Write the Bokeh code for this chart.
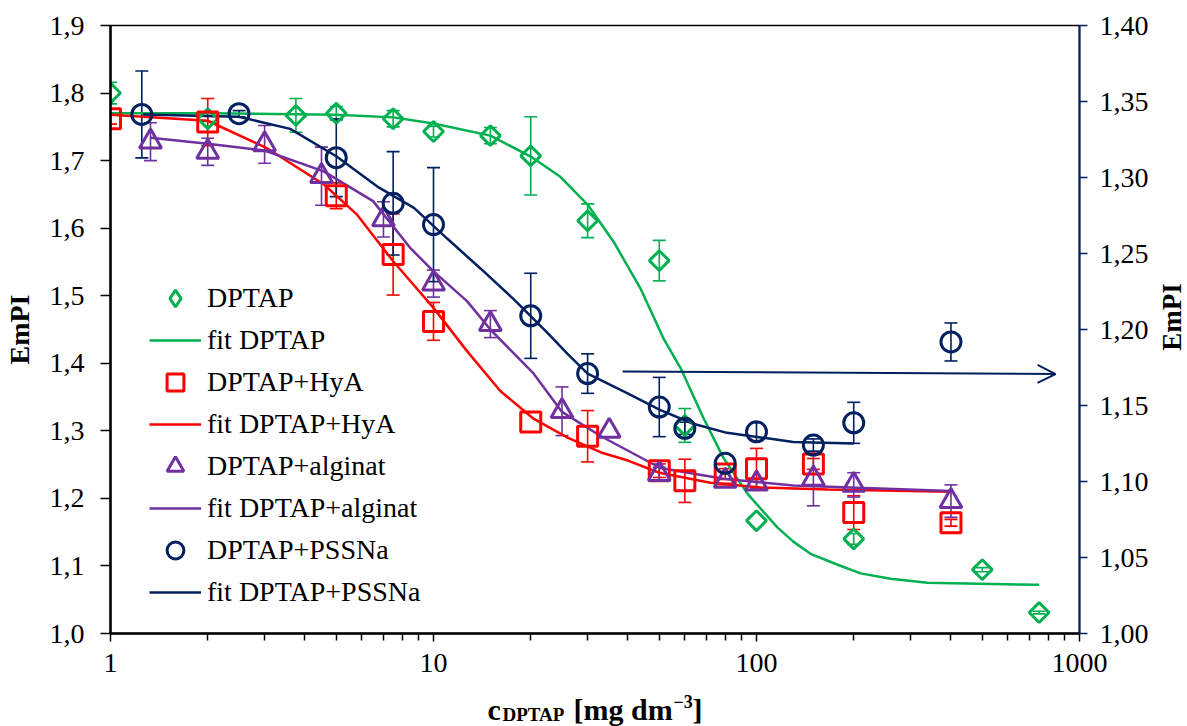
import math
import numpy as np
from bokeh.plotting import figure
from bokeh.layouts import column, row
from bokeh.models import (Range1d, LinearAxis, FixedTicker, CustomJSTickFormatter, Whisker,
                          TeeHead, ColumnDataSource, Legend, LegendItem, Arrow, OpenHead, Label)
from bokeh.embed import file_html
from bokeh.resources import INLINE

NAN = float("nan")

# ---------------- data ----------------
dptap_x = [1, 2, 3.75, 5, 7.5, 10, 15, 20, 30, 50, 60, 100, 200, 500, 750]
dptap_y = [1.800, 1.762, 1.767, 1.770, 1.762, 1.743, 1.737, 1.707, 1.611, 1.552, 1.308, 1.167, 1.140, 1.0945, 1.031]
dptap_e = [0.016, 0.004, 0.025, 0.010, 0.012, 0.008, 0.012, 0.058, 0.025, 0.030, 0.025, NAN, 0.008, 0.003, 0.002]

fit_dptap_x = [1, 2, 5, 7.52, 10, 15, 20, 24.7, 30, 36.1, 43.7, 51.5, 58.2, 68.5, 79, 93.7, 116, 130, 147,
               180, 210, 260, 338, 750]
fit_dptap_y = [1.770, 1.770, 1.768, 1.764, 1.755, 1.737, 1.706, 1.676, 1.635, 1.580, 1.511, 1.437, 1.393, 1.319,
               1.260, 1.207, 1.157, 1.136, 1.118, 1.101, 1.089, 1.081, 1.075, 1.072]

hya_x = [1, 2, 5, 7.5, 10, 20, 30, 50, 60, 80, 100, 150, 200, 400]
hya_y = [1.762, 1.757, 1.648, 1.561, 1.462, 1.313, 1.292, 1.241, 1.226, 1.236, 1.244, 1.251, 1.179, 1.164]
hya_e = [0.008, 0.035, 0.019, 0.060, 0.028, NAN, 0.038, 0.010, 0.032, 0.008, 0.030, 0.008, 0.025, 0.005]

fit_hya_x = [1, 2, 3.06, 4.57, 5.8, 7.5, 8.5, 10, 12.7, 16.1, 20.4, 26, 33, 40, 50, 72, 103, 166, 400]
fit_hya_y = [1.768, 1.759, 1.718, 1.665, 1.620, 1.551, 1.521, 1.482, 1.418, 1.359, 1.318, 1.290, 1.268, 1.256,
             1.238, 1.223, 1.216, 1.213, 1.210]

alg_x = [1.33, 2, 3, 4.5, 7, 10, 15, 25, 35, 50, 80, 100, 150, 200, 400]
alg_y = [1.728, 1.713, 1.724, 1.677, 1.613, 1.518, 1.458, 1.329, 1.300, 1.236, 1.226, 1.222, 1.229, 1.220, 1.196]
alg_e = [0.028, 0.020, 0.028, 0.043, 0.026, 0.020, 0.020, 0.036, NAN, 0.010, NAN, 0.006, 0.040, 0.018, 0.024]

fit_alg_x = [1.33, 2, 3, 4.57, 6.5, 8.5, 10, 12.7, 15, 20.4, 25, 33, 50.4, 79, 130, 400]
fit_alg_y = [1.734, 1.725, 1.715, 1.684, 1.640, 1.570, 1.536, 1.492, 1.450, 1.385, 1.328, 1.292, 1.245, 1.229,
             1.219, 1.211]

# PSSNa is read on the right-hand axis
pss_x = [1.25, 2.5, 5, 7.5, 10, 20, 30, 50, 60, 80, 100, 150, 200, 400]
pss_y = [1.3415, 1.342, 1.313, 1.283, 1.269, 1.209, 1.171, 1.149, 1.135, 1.112, 1.1327, 1.124, 1.1386, 1.1918]
pss_e = [0.0286, 0.002, 0.0256, 0.034, 0.0375, 0.028, 0.013, 0.0195, 0.004, NAN, 0.006, 0.004, 0.0135, 0.0125]

fit_pss_x = [1.26, 2.49, 3.6, 5, 6.7, 8.7, 11, 14, 17.7, 22.5, 26, 30, 39.9, 50.4, 63.7, 81, 103, 130, 200]
fit_pss_y = [1.3415, 1.340, 1.332, 1.314, 1.294, 1.280, 1.260, 1.240, 1.220, 1.198, 1.184, 1.171, 1.158, 1.147,
             1.138, 1.132, 1.129, 1.126, 1.125]

x_ticks = [1, 10, 100, 1000]
x_minor = [2, 3, 4, 5, 6, 7, 8, 9, 20, 30, 40, 50, 60, 70, 80, 90, 200, 300, 400, 500, 600, 700, 800, 900]
left_ticks = [1.0, 1.1, 1.2, 1.3, 1.4, 1.5, 1.6, 1.7, 1.8, 1.9]
right_ticks = [1.00, 1.05, 1.10, 1.15, 1.20, 1.25, 1.30, 1.35, 1.40]

legend_labels = ["DPTAP", "fit DPTAP", "DPTAP+HyA", "fit DPTAP+HyA", "DPTAP+alginat", "fit DPTAP+alginat",
                 "DPTAP+PSSNa", "fit DPTAP+PSSNa"]
y_title = "EmPI"

# ---------------- styles ----------------
GREEN = "#00B050"
RED = "#FF0000"
PURPLE = "#7030A0"
NAVY = "#002060"
FONT = "Liberation Serif"
LFONT = "'Liberation Serif', serif"

p = figure(width=1151, height=686, x_axis_type="log", title=None,
           x_range=Range1d(1, 1000), y_range=Range1d(1.0, 1.9),
           output_backend="svg", toolbar_location=None,
           min_border_left=110, min_border_right=72, min_border_top=25, min_border_bottom=53)
p.extra_y_ranges = {"right": Range1d(1.0, 1.4)}
p.xgrid.visible = False
p.ygrid.visible = False
p.outline_line_color = "black"
p.outline_line_width = 1.5
p.background_fill_color = "white"
p.border_fill_color = "white"

# x axis
xa = p.xaxis[0]
xa.ticker = FixedTicker(ticks=x_ticks, minor_ticks=x_minor)
xa.formatter = CustomJSTickFormatter(code="return tick.toFixed(0);")
xa.axis_line_color = "black"
xa.axis_line_width = 2.5
xa.major_tick_in = 0
xa.major_tick_out = 8
xa.minor_tick_in = 0
xa.minor_tick_out = 7
xa.major_tick_line_width = 1.5
xa.minor_tick_line_width = 1.5
xa.major_label_text_font = FONT
xa.major_label_text_font_size = "28px"
xa.major_label_text_color = "black"
xa.major_label_standoff = 12

# left axis
ya = p.yaxis[0]
ya.ticker = FixedTicker(ticks=left_ticks)
ya.formatter = CustomJSTickFormatter(code="return tick.toFixed(1).replace('.', ',');")
ya.axis_line_color = "black"
ya.axis_line_width = 2.5
ya.major_tick_in = 0
ya.major_tick_out = 10
ya.minor_tick_line_color = None
ya.major_tick_line_width = 1.5
ya.major_label_text_font = FONT
ya.major_label_text_font_size = "28px"
ya.major_label_text_color = "black"
ya.major_label_standoff = 16
ya.axis_label = y_title
ya.axis_label_text_font = FONT
ya.axis_label_text_font_size = "28px"
ya.axis_label_text_font_style = "bold"
ya.axis_label_text_color = "black"
ya.axis_label_standoff = 12

# right axis
ra = LinearAxis(y_range_name="right", ticker=FixedTicker(ticks=right_ticks),
                formatter=CustomJSTickFormatter(code="return tick.toFixed(2).replace('.', ',');"))
ra.axis_line_color = NAVY
ra.axis_line_width = 2
ra.major_tick_line_color = NAVY
ra.major_tick_line_width = 1.5
ra.major_tick_in = 0
ra.major_tick_out = 8
ra.minor_tick_line_color = None
ra.major_label_text_font = FONT
ra.major_label_text_font_size = "28px"
ra.major_label_text_color = "black"
ra.major_label_standoff = 12
p.add_layout(ra, "right")


def whisk(xs, ys, es, color, rng="default"):
    y = np.array(ys, dtype=float)
    e = np.array(es, dtype=float)
    src = ColumnDataSource(dict(x=xs, lo=y - e, hi=y + e))
    w = Whisker(source=src, base="x", lower="lo", upper="hi", dimension="height",
                line_color=color, line_width=1.6, y_range_name=rng,
                upper_head=TeeHead(size=13, line_color=color, line_width=1.6),
                lower_head=TeeHead(size=13, line_color=color, line_width=1.6))
    p.add_layout(w)


whisk(dptap_x, dptap_y, dptap_e, GREEN)
whisk(hya_x, hya_y, hya_e, RED)
whisk(alg_x, alg_y, alg_e, PURPLE)
whisk(pss_x, pss_y, pss_e, NAVY, "right")

# fit curves
l1 = p.line(fit_dptap_x, fit_dptap_y, line_color=GREEN, line_width=2.5)
l2 = p.line(fit_hya_x, fit_hya_y, line_color=RED, line_width=2.5)
l3 = p.line(fit_alg_x, fit_alg_y, line_color=PURPLE, line_width=2.5)
l4 = p.line(fit_pss_x, fit_pss_y, line_color=NAVY, line_width=2.5, y_range_name="right")

# markers
s1 = p.scatter(dptap_x, dptap_y, marker="square", angle=math.pi / 4, size=14,
               fill_color=None, line_color=GREEN, line_width=3)
s2 = p.scatter(hya_x, hya_y, marker="square", size=20, fill_color=None, line_color=RED, line_width=3)
s3 = p.scatter(alg_x, alg_y, marker="triangle", size=22, fill_color=None, line_color=PURPLE, line_width=3)
s4 = p.scatter(pss_x, pss_y, marker="circle", size=20, fill_color=None, line_color=NAVY, line_width=3,
               y_range_name="right")
# legend swatch for the diamond (the legend does not rotate markers)
s1_key = p.scatter([NAN], [NAN], marker="diamond", size=14, fill_color=None, line_color=GREEN, line_width=3)

legend = Legend(items=[LegendItem(label=legend_labels[0], renderers=[s1_key]),
                       LegendItem(label=legend_labels[1], renderers=[l1]),
                       LegendItem(label=legend_labels[2], renderers=[s2]),
                       LegendItem(label=legend_labels[3], renderers=[l2]),
                       LegendItem(label=legend_labels[4], renderers=[s3]),
                       LegendItem(label=legend_labels[5], renderers=[l3]),
                       LegendItem(label=legend_labels[6], renderers=[s4]),
                       LegendItem(label=legend_labels[7], renderers=[l4])],
                location=(39, 20), orientation="vertical",
                label_text_font=LFONT, label_text_font_size="28px", label_text_color="black",
                glyph_width=52, glyph_height=42, label_height=42, label_standoff=6, spacing=0,
                padding=0, margin=0, border_line_color=None, background_fill_alpha=0)
p.add_layout(legend)

# arrow pointing to the right axis
p.add_layout(Arrow(end=OpenHead(size=18, line_color=NAVY, line_width=2),
                   x_start=38.5, y_start=1.388, x_end=843, y_end=1.384,
                   line_color=NAVY, line_width=2))


def blank(w, h, xr, yr):
    f = figure(width=w, height=h, x_range=Range1d(*xr), y_range=Range1d(*yr), title=None,
               output_backend="svg", toolbar_location=None,
               x_axis_location=None, y_axis_location=None, min_border=0)
    f.xgrid.visible = False
    f.ygrid.visible = False
    f.outline_line_color = None
    f.background_fill_color = "white"
    f.border_fill_color = "white"
    return f


# right-hand axis title (reads bottom to top, as in the reference)
pr = blank(36, 686, (0, 36), (0, 686))
pr.add_layout(Label(x=20, y=357, text=y_title, angle=math.pi / 2, text_font=FONT, text_font_size="27px",
                    text_font_style="bold", text_color="black", text_align="center", text_baseline="middle"))

# x-axis title with subscript / superscript
pb = blank(1187, 40, (0, 1187), (0, 40))
xt = [("c", 487, 17, "30px"), ("DPTAP", 502, 12, "19px"), ("[mg dm", 573, 17, "30px"),
      ("\u22123", 673, 25, "18px"), ("]", 692, 17, "30px")]
for txt, xx, yy, fs in xt:
    pb.add_layout(Label(x=xx, y=yy, text=txt, text_font=FONT, text_font_size=fs, text_font_style="bold",
                        text_color="black", text_baseline="alphabetic", text_align="left"))

layout = column(row(p, pr, spacing=0), pb, spacing=0)
open("out.html", "w").write(file_html(layout, INLINE))
